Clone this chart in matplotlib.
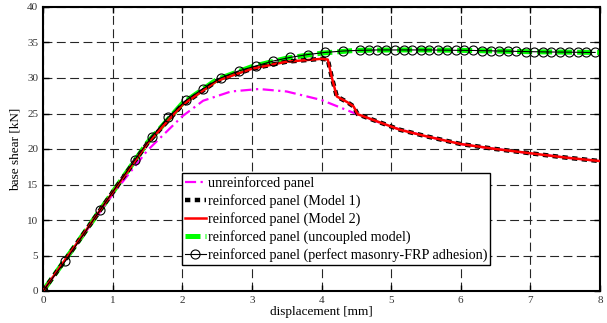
import matplotlib
matplotlib.use("Agg")
import matplotlib.pyplot as plt

# ---- data ----
x_unr = [0, 0.5, 1.0, 1.5, 2.0, 2.3, 2.7, 3.1, 3.5, 4.0, 4.46, 5.0, 5.5, 6.0, 6.5, 7.0, 7.5, 8.0]
y_unr = [0, 6.8, 13.6, 19.8, 24.6, 26.8, 28.1, 28.45, 28.1, 26.9, 25.1, 23.1, 21.8, 20.7, 20.0, 19.4, 18.8, 18.3]

x_m1 = [0, 0.5, 1.0, 1.5, 2.0, 2.5, 3.0, 3.5, 4.0, 4.09, 4.15, 4.22, 4.37, 4.46, 4.52, 5.13, 5.5, 6.0, 6.5, 7.0, 7.5, 8.0]
y_m1 = [0, 6.9, 13.9, 20.8, 26.2, 29.6, 31.3, 32.3, 32.7, 32.6, 30.0, 27.4, 26.6, 26.0, 24.9, 22.7, 21.8, 20.7, 20.0, 19.4, 18.8, 18.3]

x_m2 = x_m1
y_m2 = y_m1

x_unc = [0, 0.5, 1.0, 1.5, 2.0, 2.5, 3.0, 3.5, 4.0, 4.5, 5.0, 5.5, 6.0, 6.5, 7.0, 7.5, 8.0]
y_unc = [0, 6.9, 13.9, 20.9, 26.4, 29.8, 31.6, 32.8, 33.5, 33.9, 33.95, 33.95, 33.9, 33.8, 33.7, 33.65, 33.6]

x_perf = [0, 0.32, 0.82, 1.32, 1.56, 1.80, 2.06, 2.30, 2.55, 2.81, 3.06, 3.31, 3.55, 3.80, 4.05, 4.31,
          4.55, 4.68, 4.80, 4.93, 5.05, 5.18, 5.30, 5.43, 5.55, 5.68, 5.80, 5.93, 6.05, 6.18, 6.30,
          6.43, 6.55, 6.68, 6.80, 6.93, 7.05, 7.18, 7.30, 7.43, 7.55, 7.68, 7.80, 7.93]
y_perf = [0, 4.2, 11.4, 18.5, 21.7, 24.5, 26.9, 28.5, 30.0, 31.0, 31.7, 32.4, 32.9, 33.3, 33.6, 33.8,
          33.9, 33.92, 33.95, 33.95, 33.95, 33.95, 33.95, 33.95, 33.95, 33.93, 33.92, 33.9, 33.9, 33.88, 33.85,
          33.83, 33.8, 33.78, 33.75, 33.72, 33.7, 33.68, 33.66, 33.65, 33.64, 33.62, 33.6, 33.6]

labels = ["unreinforced panel", "reinforced panel (Model 1)", "reinforced panel (Model 2)",
          "reinforced panel (uncoupled model)", "reinforced panel (perfect masonry-FRP adhesion)"]
xticks = [0, 1, 2, 3, 4, 5, 6, 7, 8]
yticks = [0, 5, 10, 15, 20, 25, 30, 35, 40]

plt.rcParams['font.family'] = ['Liberation Serif', 'DejaVu Serif']

fig = plt.figure(figsize=(6.07, 3.23), dpi=100)
ax = fig.add_axes([43/607, 1-291/323, (600-43)/607, (291-7)/323])

l_unc, = ax.plot(x_unc, y_unc, color='#00ff00', lw=3.6, dashes=(3, 1), zorder=2)
l_unr, = ax.plot(x_unr, y_unr, color='#ff00ff', lw=1.6, dashes=(5, 2, 1, 2), zorder=3)
l_m1, = ax.plot(x_m1, y_m1, color='black', lw=3.2, dashes=(1.2, 1), dash_capstyle='butt', zorder=4)
l_m2, = ax.plot(x_m2, y_m2, color='red', lw=1.8, zorder=5)
l_perf, = ax.plot(x_perf, y_perf, color='black', lw=0.8, marker='o', ms=6.5, mfc='none', mew=0.8, zorder=6)

ax.set_xlim(0, 8)
ax.set_ylim(0, 40)
ax.set_xticks(xticks)
ax.set_yticks(yticks)
ax.tick_params(direction='in', top=True, right=True, length=4, width=1, labelsize=8, labelcolor='#333333')
ax.grid(True, color='0.15', lw=0.8, linestyle=(0, (8, 4)))
for s in ax.spines.values():
    s.set_linewidth(1.5)

ax.set_xlabel("displacement [mm]", fontsize=9.5, labelpad=1)
ax.set_ylabel("base shear [kN]", fontsize=9.5, labelpad=4)

leg = ax.legend([l_unr, l_m1, l_m2, l_unc, l_perf], labels, loc='upper left',
                bbox_to_anchor=((182-43)/557, (291-173)/284), fontsize=10.2,
                handlelength=1.5, handletextpad=0.1, borderpad=0.2, labelspacing=0.3,
                borderaxespad=0, fancybox=False, framealpha=1, edgecolor='black')
leg.get_frame().set_linewidth(1.0)

fig.savefig("out.png", dpi=100)
